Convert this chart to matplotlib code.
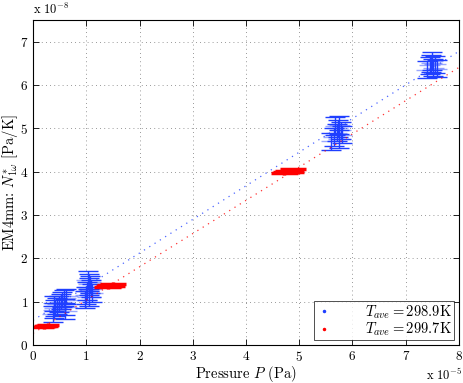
import matplotlib
matplotlib.use("Agg")
import matplotlib.pyplot as plt
import numpy as np

plt.rcParams["font.family"] = ["cmr10", "DejaVu Serif"]
plt.rcParams["mathtext.fontset"] = "cm"
plt.rcParams["axes.formatter.use_mathtext"] = True

# pressure in units of 1e-5 Pa, N* in units of 1e-8 Pa/K
blue_x = [0.38, 0.40, 0.42, 0.45, 0.48, 0.52, 0.55, 0.58, 0.60, 0.62, 0.40, 0.60,
          0.98, 1.00, 1.02, 1.05, 1.06, 1.08, 1.10, 1.03, 1.07, 1.05,
          5.60, 5.65, 5.70, 5.72, 5.75, 5.78, 5.80, 5.68, 5.74,
          7.40, 7.45, 7.48, 7.50, 7.52, 7.55, 7.58]
blue_y = [0.72, 0.80, 0.85, 0.90, 0.95, 1.00, 1.05, 1.08, 0.78, 1.12, 0.96, 0.88,
          1.05, 1.15, 1.25, 1.35, 1.45, 1.30, 1.20, 1.50, 1.40, 1.10,
          4.70, 4.80, 4.90, 5.00, 5.08, 4.95, 4.85, 5.05, 4.75,
          6.35, 6.45, 6.50, 6.55, 6.40, 6.48, 6.38]
blue_xerr = [0.22] * 12 + [0.22] * 10 + [0.2] * 9 + [0.2] * 7
blue_yerr = [0.18] * 12 + [0.2] * 10 + [0.2] * 9 + [0.2] * 7

red_x = [0.20, 0.22, 0.24, 0.26, 0.28,
         1.40, 1.43, 1.46, 1.48, 1.50,
         4.72, 4.76, 4.80, 4.84, 4.88]
red_y = [0.41, 0.43, 0.45, 0.44, 0.46,
         1.34, 1.36, 1.39, 1.37, 1.41,
         3.96, 3.99, 4.02, 4.00, 4.05]
red_xerr = [0.2] * 5 + [0.25] * 5 + [0.25] * 5
red_yerr = [0.04] * 15

# linear fits: slope, intercept
blue_fit = (0.776, 0.57)
red_fit = (0.767, 0.27)

fig = plt.figure(figsize=(4.63, 3.83), dpi=100)
ax = fig.add_axes([0.0713, 0.0992, 0.92, 0.8486])

blue = "#1f3fff"
red = "#ff0000"

ax.errorbar(blue_x, blue_y, xerr=blue_xerr, fmt="none", ecolor=blue, alpha=0.45,
            elinewidth=1.0, capsize=0)
ax.errorbar(blue_x, blue_y, yerr=blue_yerr, fmt="none", ecolor=blue,
            elinewidth=1.0, capsize=7, capthick=1.0)
ax.errorbar(red_x, red_y, xerr=red_xerr, yerr=red_yerr, fmt="none", ecolor=red,
            elinewidth=2.5, capsize=0)

xs = np.linspace(0, 8, 2)
ax.plot(xs, blue_fit[0] * xs + blue_fit[1], linestyle=(0, (1, 4)), color=blue,
        linewidth=0.9, alpha=0.8)
ax.plot(xs, red_fit[0] * xs + red_fit[1], linestyle=(0, (1, 4)), color=red,
        linewidth=0.9, alpha=0.8)

ax.plot([], [], ".", color=blue, markersize=3, label=r"$T_{ave} = 298.9$K")
ax.plot([], [], ".", color=red, markersize=3, label=r"$T_{ave} = 299.7$K")

ax.set_xlim(0, 8)
ax.set_ylim(0, 7.5)
ax.set_xticks(range(0, 9))
ax.set_yticks(range(0, 8))
ax.grid(True, color="#777777", linestyle=(0, (1, 4)), linewidth=0.6)
ax.tick_params(direction="in", top=True, right=True, labelsize=9.5, length=4, width=0.6)
for s in ax.spines.values():
    s.set_linewidth(0.8)

ax.set_xlabel(r"Pressure $P$ (Pa)", fontsize=10.5)
ax.xaxis.set_label_coords(0.5, -0.057)
ax.set_ylabel(r"EM4mm: $N^{*}_{1\omega}$ [Pa/K]", fontsize=10.5)
ax.yaxis.set_label_coords(-0.03, 0.5)

fig.text(0.072, 0.975, r"x 10$^{-8}$", fontsize=9, va="center", ha="left")
fig.text(0.998, 0.02, r"x 10$^{-5}$", fontsize=9, va="center", ha="right")

leg = ax.legend(loc="lower right", fontsize=10.5, frameon=True, fancybox=False,
                edgecolor="black", borderpad=0.12, handlelength=1.2,
                labelspacing=0.0, borderaxespad=0.35, handletextpad=2.2)
leg.get_frame().set_linewidth(0.6)

fig.savefig("out.png", dpi=100)
